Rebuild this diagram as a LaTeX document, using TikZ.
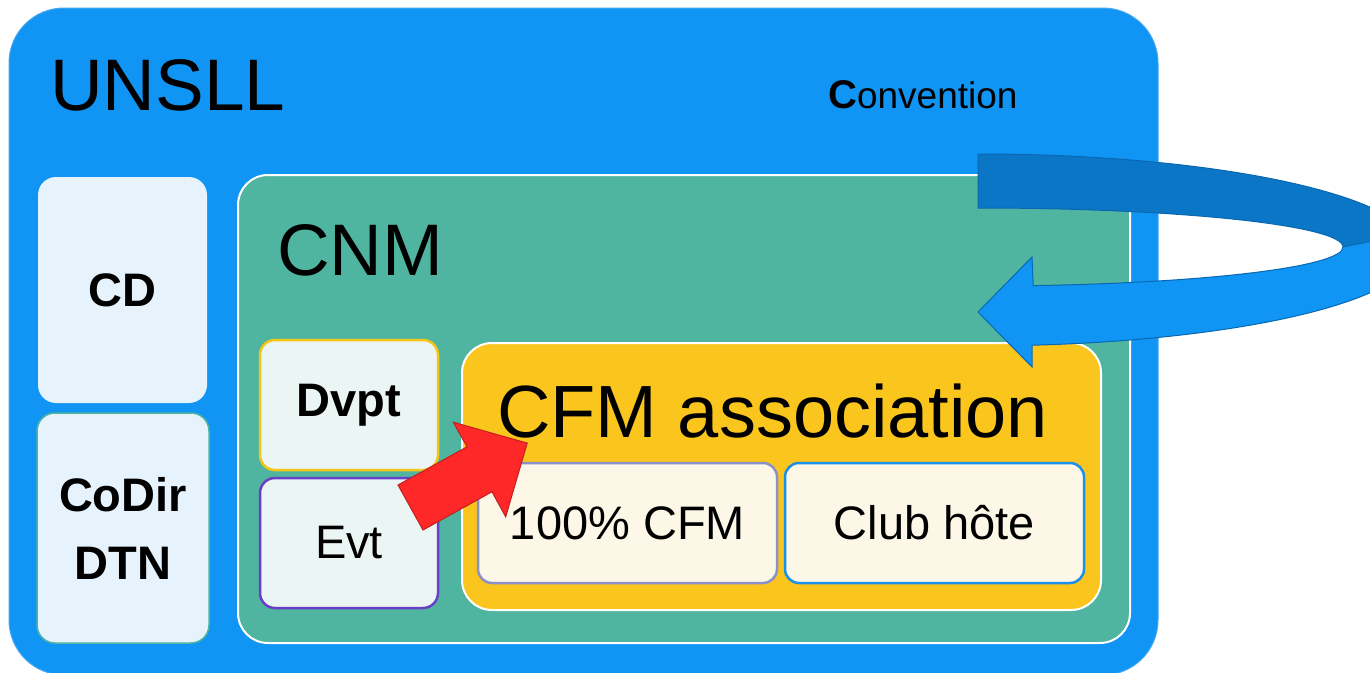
\documentclass[tikz,border=0pt]{standalone}
\usepackage{fontspec}
\setmainfont{Liberation Sans}
\definecolor{ublue}{HTML}{1095F5}
\definecolor{ubline}{HTML}{45A8F2}
\definecolor{udark}{HTML}{0B76C6}
\definecolor{udarkline}{HTML}{0A68B0}
\definecolor{cnmteal}{HTML}{50B5A0}
\definecolor{cdfill}{HTML}{E6F2FC}
\definecolor{dvfill}{HTML}{EBF5F3}
\definecolor{dvline}{HTML}{F5C518}
\definecolor{evline}{HTML}{6A3FC8}
\definecolor{cfmyellow}{HTML}{FAC51C}
\definecolor{cream}{HTML}{FDF7E7}
\definecolor{lavender}{HTML}{8A90C8}
\definecolor{clubline}{HTML}{1A90EA}
\definecolor{ared}{HTML}{FF2828}
\definecolor{adark}{HTML}{C0201E}
\begin{document}
\begin{tikzpicture}[x=1pt,y=-1pt,
  rbox/.style={rectangle, inner sep=0pt, outer sep=0pt, text=black},
  bigtxt/.style={anchor=base west, inner sep=0pt, text=black, font=\fontsize{73}{88}\selectfont},
  midtxt/.style={font=\fontsize{47}{68}\selectfont},
  boldtxt/.style={font=\fontsize{47}{68}\selectfont\bfseries}]
\useasboundingbox (0,0) rectangle (1370,672);
% outer UNSLL box
\node[rbox, fill=ublue, draw=ubline, line width=1pt, rounded corners=55,
  minimum width=1149, minimum height=667] (unsll) at (583.5,341.5) {};
\node[bigtxt] (unsllt) at (50,110) {UNSLL};
\node[anchor=base west, inner sep=0pt] (conv) at (828,108)
  {{\fontsize{40}{48}\selectfont\bfseries C}{\fontsize{37}{44}\selectfont onvention}};
% left boxes
\node[rbox, fill=cdfill, rounded corners=18, minimum width=169, minimum height=226,
  boldtxt] (cd) at (122.5,290) {CD};
\node[rbox, fill=cdfill, draw=cnmteal, line width=1.5pt, rounded corners=18,
  minimum width=172, minimum height=230, boldtxt, align=center] (codir) at (123,528) {CoDir\\DTN};
% CNM
\node[rbox, fill=cnmteal, draw=white, line width=2pt, rounded corners=30,
  minimum width=892, minimum height=468] (cnm) at (684,409) {};
\node[bigtxt] (cnmt) at (277,275) {CNM};
% Dvpt / Evt
\node[rbox, fill=dvfill, draw=dvline, line width=2.5pt, rounded corners=15,
  minimum width=178, minimum height=130, boldtxt] (dvpt) at (349,405) {Dvpt};
\node[rbox, fill=dvfill, draw=evline, line width=2.5pt, rounded corners=15,
  minimum width=178, minimum height=130, midtxt] (evt) at (349,543) {Evt};
% CFM association
\node[rbox, fill=cfmyellow, draw=white, line width=2pt, rounded corners=30,
  minimum width=639, minimum height=267] (cfm) at (781.5,476.5) {};
\node[anchor=base west, inner sep=0pt, text=black, font=\fontsize{74}{88}\selectfont]
  (cfmt) at (497,437) {CFM association};
\node[rbox, fill=cream, draw=lavender, line width=2.5pt, rounded corners=14,
  minimum width=299, minimum height=120, midtxt] (cent) at (627.5,523) {100\% CFM};
\node[rbox, fill=cream, draw=clubline, line width=2.5pt, rounded corners=14,
  minimum width=299, minimum height=120, midtxt] (club) at (934.5,523) {Club hôte};
% curved blue arrow (back part)
\filldraw[fill=udark, draw=udarkline, line width=1pt]
  (978,154) arc[start angle=-90, end angle=0, x radius=438, y radius=96]
  -- (1343,247) arc[start angle=0, end angle=-90, x radius=365, y radius=39] -- cycle;
% curved blue arrow (front part with head)
\filldraw[fill=ublue, draw=udarkline, line width=1pt]
  (1409.3,233.3) arc[start angle=-10, end angle=82.9, x radius=438, y radius=96]
  -- (1032,367) -- (978,312) -- (1032,257) -- (1033.2,285.6)
  arc[start angle=81.3, end angle=0, x radius=365, y radius=39] -- cycle;
% red arrow
\filldraw[fill=ared, draw=adark, line width=1pt]
  (398,485) -- (467,446.8) -- (453.3,422.2) -- (527.2,443.1) -- (505.7,516.8)
  -- (492,491.8) -- (423,530) -- cycle;
\end{tikzpicture}
\end{document}
